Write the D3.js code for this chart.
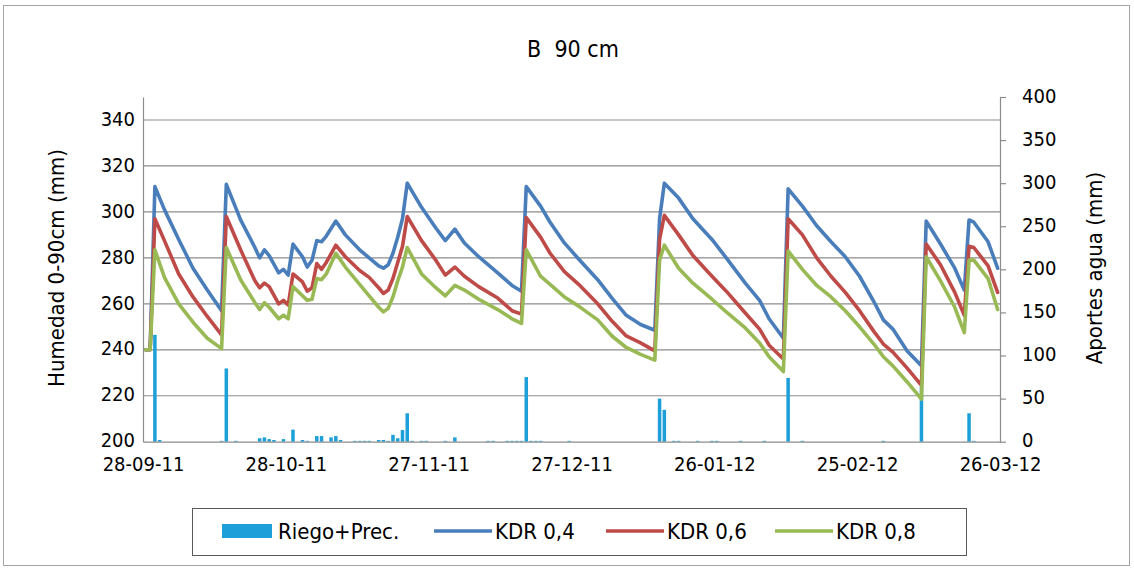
<!DOCTYPE html>
<html><head><meta charset="utf-8">
<script src="https://cdn.jsdelivr.net/npm/d3@7"></script>
<style>
body{margin:0;background:#fff;}
svg text{font-family:"Liberation Sans Narrow","Arial Narrow","DejaVu Sans Condensed",sans-serif;fill:#000;}
</style></head><body><svg id="c" width="1134" height="570"></svg>
<script>
// ---- DATA ----
const lineDates = ["2011-09-28","2011-09-29","2011-09-30","2011-10-02","2011-10-05","2011-10-08","2011-10-11","2011-10-14","2011-10-15","2011-10-18",
"2011-10-21","2011-10-22","2011-10-23","2011-10-24","2011-10-26","2011-10-27","2011-10-28","2011-10-29","2011-10-31","2011-11-01",
"2011-11-02","2011-11-03","2011-11-04","2011-11-05","2011-11-07","2011-11-09","2011-11-12","2011-11-14","2011-11-16","2011-11-17",
"2011-11-18","2011-11-19","2011-11-20","2011-11-21","2011-11-22","2011-11-25","2011-11-28","2011-11-30","2011-12-02","2011-12-04",
"2011-12-07","2011-12-11","2011-12-14","2011-12-16","2011-12-17","2011-12-20","2011-12-22","2011-12-25","2011-12-28","2012-01-01",
"2012-01-04","2012-01-07","2012-01-10","2012-01-13","2012-01-14","2012-01-15","2012-01-18","2012-01-21","2012-01-25","2012-01-28",
"2012-02-01","2012-02-04","2012-02-06","2012-02-09","2012-02-10","2012-02-13","2012-02-16","2012-02-19","2012-02-22","2012-02-25",
"2012-02-28","2012-03-01","2012-03-03","2012-03-06","2012-03-09","2012-03-10","2012-03-13","2012-03-16","2012-03-18","2012-03-19",
"2012-03-20","2012-03-23","2012-03-25"];
const kdr04 = [240,240,311,301,288,275.5,266,257,312,296.5,
284.5,280,283.5,281,273.5,275,272.5,286,280.5,276,
279,287.5,287,289.5,296,290,283.5,280,276.5,275.5,
277,282,289,297,312.5,302,293,287.5,292.5,286.5,
280.5,273.5,268,265.5,311,302.5,295.5,286.5,279.5,270.5,
262.5,255,251,248.5,297,312.5,306,297,288,280,
269,261.5,253.5,245,310,302.5,294,287,280.5,272,
261,253,249,239.5,233,296,286,275.5,266,296.5,
295.5,287,275.5];
const kdr06 = [240,240,297,287.5,273,263,254.5,246.5,298,283.5,
270,267,269,267.5,260,261.5,259.5,273,269.5,265.5,
267,277.5,275,278,285.5,280.5,274.5,271.5,267,264.5,
266,271,278,285,298,287.5,279,272.5,276,272,
267.5,262.5,257,255.5,297.5,289,282,274,268.5,260,
252.5,246,243,239.5,288,298.5,290,281,272,265.5,
256,249,242,236,297,290,280,272,265,257,
248,242.5,239,232,224.5,286,277,265,255,285,
284.5,276.5,265];
const kdr08 = [240,240,283.5,271.5,260,252,245,240.5,284.5,270.5,
260.5,257.5,260.5,258.5,253.5,255,253.5,267.5,263.5,261.5,
262,271,270.5,273,282,276,268.5,263.5,258.5,256.5,
258,263,270,276,284.5,273,267,263.5,268,266,
262,257.5,253.5,251.5,283.5,272,268.5,263,259,253,
246,241,238,235.5,279,285.5,275.5,269,262,256.5,
249.5,243,237,230.5,283,275,268,263,257,250,
242.5,237,233,226,218.5,280.5,270,258.5,247.5,279,
279,271,257.5];
const barDates = ["2011-09-30","2011-10-01","2011-10-14","2011-10-15","2011-10-17","2011-10-22","2011-10-23","2011-10-24","2011-10-25","2011-10-27",
"2011-10-29","2011-10-31","2011-11-01","2011-11-03","2011-11-04","2011-11-06","2011-11-07","2011-11-08","2011-11-11","2011-11-12",
"2011-11-13","2011-11-14","2011-11-16","2011-11-17","2011-11-18","2011-11-19","2011-11-20","2011-11-21","2011-11-22","2011-11-23",
"2011-11-25","2011-11-26","2011-11-30","2011-12-02","2011-12-09","2011-12-10","2011-12-13","2011-12-14","2011-12-15","2011-12-16",
"2011-12-17","2011-12-18","2011-12-19","2011-12-20","2011-12-26","2012-01-14","2012-01-15","2012-01-17","2012-01-18","2012-01-22",
"2012-01-25","2012-01-26","2012-01-31","2012-02-05","2012-02-10","2012-02-13","2012-03-01","2012-03-09","2012-03-19","2012-03-20"];
const riegoPrec = [124,2,1,85,1,4,5,3,2,3,
14,2,1,6.5,6.5,5,6.5,2,1,1,
1,1,2,2,1,8,4,13.5,33,1,
1,1,1,5,1,1,1,1,1,1,
75,1,1,1,1,50,37,1,1,1,
1,1,1,1,74,1,1,64,33,1];
const leftTicks = [200,220,240,260,280,300,320,340];
const rightTicks = [0,50,100,150,200,250,300,350,400];
const xTickDates = ["2011-09-28","2011-10-28","2011-11-27","2011-12-27","2012-01-26","2012-02-25","2012-03-26"];
const seriesNames = ["KDR 0,4","KDR 0,6","KDR 0,8"];
const barName = "Riego+Prec.";
const title = "B  90 cm";
const leftTitle = "Humedad 0-90cm (mm)";
const rightTitle = "Aportes agua (mm)";

// ---- DRAW ----
const parse = d3.utcParse("%Y-%m-%d");
const fmt = d3.utcFormat("%d-%m-%y");
const mid = d => d3.utcHour.offset(parse(d), 12);
const svg = d3.select("#c");
const L = 143, R = 1000, T = 97, B = 441.7;
const x = d3.scaleUtc().domain([parse("2011-09-28"), parse("2012-03-26")]).range([L, R]);
const yL = d3.scaleLinear().domain([200,350]).range([B, T]);
const yR = d3.scaleLinear().domain([0,400]).range([B, T]);
const gridC = "#8c8c8c";
const colors = ["#4a7ebb","#be4b48","#98b954"];
const barC = "#1d9fd9";

// outer border
svg.append("rect").attr("x",3.5).attr("y",5.5).attr("width",1126).attr("height",560)
  .attr("fill","none").attr("stroke","#a6a6a6");

// title
svg.append("text").attr("x",573).attr("y",57).attr("text-anchor","middle")
  .style("font-size","23px").style("white-space","pre").text(title);

// gridlines
svg.append("g").selectAll("line").data(leftTicks.filter(t=>t>200)).join("line")
  .attr("x1",L).attr("x2",R).attr("y1",d=>yL(d)).attr("y2",d=>yL(d))
  .attr("stroke",gridC).attr("stroke-width",1.2);

// bars
svg.append("g").selectAll("rect").data(barDates.map((d,i)=>({d:mid(d),v:riegoPrec[i]}))).join("rect")
  .attr("x",d=>x(d.d)-1.75).attr("width",3.5)
  .attr("y",d=>yR(d.v)).attr("height",d=>yR(0)-yR(d.v))
  .attr("fill",barC);

// lines
const line = d3.line().x(d=>x(d.d)).y(d=>yL(d.v));
[kdr04,kdr06,kdr08].forEach((s,k)=>{
  svg.append("path").datum(lineDates.map((d,i)=>({d:mid(d),v:s[i]})))
    .attr("d",line).attr("fill","none").attr("stroke",colors[k])
    .attr("stroke-width",3.6).attr("stroke-linejoin","round").attr("stroke-linecap","round");
});

// axes
const axL = svg.append("g").attr("transform",`translate(${L},0)`)
  .call(d3.axisLeft(yL).tickValues(leftTicks).tickSize(0).tickPadding(8).tickSizeOuter(0));
const axR = svg.append("g").attr("transform",`translate(${R},0)`)
  .call(d3.axisRight(yR).tickValues(rightTicks).tickSize(6).tickPadding(16).tickSizeOuter(0));
const axB = svg.append("g").attr("transform",`translate(0,${B})`)
  .call(d3.axisBottom(x).tickValues(xTickDates.map(parse)).tickFormat(fmt).tickSize(0).tickPadding(15).tickSizeOuter(0));
[axL,axR,axB].forEach(a=>{
  a.selectAll("path,line").attr("stroke",gridC).attr("stroke-width",1.2);
  a.selectAll("text").style("font-size","20px").attr("fill","#000");
  a.attr("font-family",null).attr("font-size",null);
});
axL.selectAll("text").attr("dy","0.26em");
axR.selectAll("text").attr("dy","0.26em");

// axis titles
svg.append("text").attr("transform","translate(64,268) rotate(-90)").attr("text-anchor","middle")
  .style("font-size","22px").text(leftTitle);
svg.append("text").attr("transform","translate(1102,268) rotate(-90)").attr("text-anchor","middle")
  .style("font-size","22px").text(rightTitle);

// legend
const lg = svg.append("g");
lg.append("rect").attr("x",192.5).attr("y",508.5).attr("width",774).attr("height",47)
  .attr("fill","#fff").attr("stroke","#595959");
const ly = 531;
lg.append("rect").attr("x",222).attr("y",ly-7).attr("width",50).attr("height",14).attr("fill",barC);
lg.append("text").attr("x",278).attr("y",ly+8).style("font-size","22px").text(barName);
const lx = [434,606,775];
seriesNames.forEach((n,k)=>{
  lg.append("line").attr("x1",lx[k]).attr("x2",lx[k]+58).attr("y1",ly).attr("y2",ly)
    .attr("stroke",colors[k]).attr("stroke-width",3.6);
  lg.append("text").attr("x",lx[k]+61).attr("y",ly+8).style("font-size","22px").text(n);
});
</script></body></html>
